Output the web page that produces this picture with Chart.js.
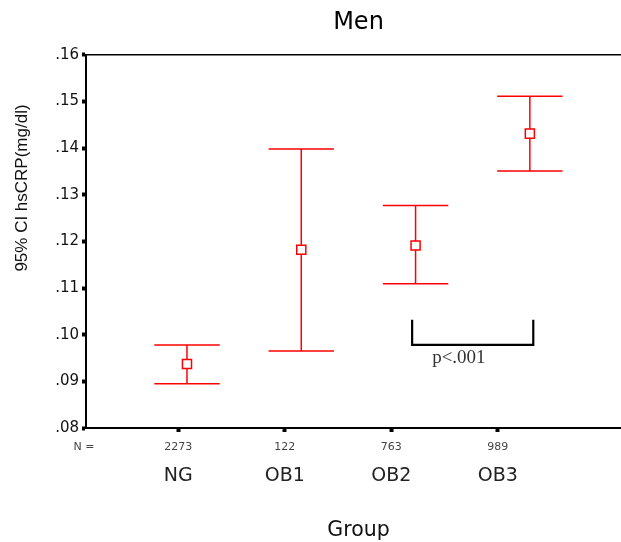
<!DOCTYPE html>
<html>
<head>
<meta charset="utf-8">
<title>Men - 95% CI hsCRP</title>
<script src="https://cdn.jsdelivr.net/npm/chart.js@4.4.1/dist/chart.umd.min.js"></script>
<style>
  html, body { margin: 0; background: #fff; overflow: hidden; }
  /* plot frame runs past the right edge of the window, like the original crop */
  #wrap { width: 631px; height: 542px; }
</style>
</head>
<body>
<div id="wrap"><canvas id="ciChart"></canvas></div>
<script>
// values
const groups = ["NG", "OB1", "OB2", "OB3"];
const counts = ["2273", "122", "763", "989"];
const means = [0.0937, 0.1182, 0.1191, 0.1431];
const lower = [0.0895, 0.0965, 0.1109, 0.1351];
const upper = [0.0978, 0.1398, 0.1277, 0.1511];
const yTicks = [0.08, 0.09, 0.10, 0.11, 0.12, 0.13, 0.14, 0.15, 0.16];

// bracket between OB2 and OB3
const bracket = { from: 1.97, to: 3.03, top: 0.1032, bottom: 0.0978, text: "p<.001" };

const RED = "#ff0000";
const FONT = "'DejaVu Sans', sans-serif";

// one dataset per whisker: vertical line + caps drawn as 'line' points
const whiskers = groups.map((g, i) => ({
  type: "line",
  data: [{ x: i, y: lower[i] }, { x: i, y: upper[i] }],
  borderColor: RED,
  borderWidth: 1.5,
  pointStyle: "line",
  pointRadius: 32.7,
  pointBorderWidth: 1.5,
  pointBorderColor: RED,
  order: 2,
}));

const extras = {
  id: "extras",
  afterDraw(chart) {
    const { ctx, chartArea } = chart;
    const x = chart.scales.x, y = chart.scales.y;
    ctx.save();

    // top border
    ctx.strokeStyle = "#000";
    ctx.lineWidth = 1.5;
    ctx.beginPath();
    ctx.moveTo(chartArea.left, chartArea.top);
    ctx.lineTo(chartArea.right, chartArea.top);
    ctx.stroke();

    // bracket
    const x1 = x.getPixelForValue(bracket.from);
    const x2 = x.getPixelForValue(bracket.to);
    const yt = y.getPixelForValue(bracket.top);
    const yb = y.getPixelForValue(bracket.bottom);
    ctx.lineWidth = 2.2;
    ctx.beginPath();
    ctx.moveTo(x1, yt);
    ctx.lineTo(x1, yb);
    ctx.lineTo(x2, yb);
    ctx.lineTo(x2, yt);
    ctx.stroke();

    ctx.fillStyle = "#333";
    ctx.font = "19px 'Liberation Serif', serif";
    ctx.textAlign = "left";
    ctx.textBaseline = "alphabetic";
    ctx.fillText(bracket.text, x1 + 20, yb + 18);

    // "N =" in front of the counts
    ctx.fillStyle = "#444";
    ctx.font = "11px " + FONT;
    ctx.textAlign = "center";
    ctx.textBaseline = "middle";
    ctx.fillText("N =", 84, 447);

    // y axis title
    ctx.fillStyle = "#111";
    ctx.font = "17px 'Liberation Sans', Arial, sans-serif";
    ctx.translate(22, 188);
    ctx.rotate(-Math.PI / 2);
    ctx.textBaseline = "middle";
    ctx.fillText("95% CI hsCRP(mg/dl)", 0, 0);
    ctx.restore();
  }
};

const tickGrid = {
  drawOnChartArea: false,
  tickLength: 4,
  tickWidth: 4,
  tickColor: "#000",
};

const noSidePad = (s) => { s.paddingLeft = 0; s.paddingRight = 0; };

new Chart(document.getElementById("ciChart"), {
  type: "scatter",
  data: {
    datasets: [
      {
        type: "scatter",
        data: means.map((m, i) => ({ x: i, y: m })),
        pointStyle: "rect",
        pointRadius: 6.4,
        pointBorderWidth: 1.5,
        pointBorderColor: RED,
        pointBackgroundColor: "#fff",
        order: 1,
      },
      ...whiskers,
    ],
  },
  options: {
    responsive: true,
    maintainAspectRatio: false,
    animation: false,
    events: [],
    layout: { autoPadding: false, padding: 0 },
    plugins: {
      legend: { display: false },
      tooltip: { enabled: false },
      title: {
        display: true,
        text: "Men",
        fullSize: false,
        color: "#000",
        font: { family: FONT, size: 24, weight: "normal" },
        padding: { top: 8, bottom: 18 },
      },
    },
    scales: {
      x: {
        type: "linear",
        display: false,
        min: -0.8836,
        max: 3.885,
        afterFit: noSidePad,
      },
      xN: {
        type: "linear",
        axis: "x",
        position: "bottom",
        weight: 0,
        min: -0.867,
        max: 4.251,
        afterBuildTicks: (s) => { s.ticks = groups.map((g, i) => ({ value: i })); },
        afterFit: (s) => { s.height = 30; noSidePad(s); },
        grid: tickGrid,
        border: { color: "#000", width: 2 },
        ticks: {
          autoSkip: false,
          maxRotation: 0,
          padding: 9,
          color: "#444",
          font: { family: FONT, size: 11 },
          callback: (v, i) => counts[i],
        },
      },
      xLab: {
        type: "linear",
        axis: "x",
        position: "bottom",
        weight: 1,
        min: -0.867,
        max: 4.251,
        afterBuildTicks: (s) => { s.ticks = groups.map((g, i) => ({ value: i })); },
        afterFit: (s) => { s.height = 84; noSidePad(s); },
        grid: { display: false, drawTicks: false },
        border: { display: false },
        ticks: {
          autoSkip: false,
          maxRotation: 0,
          padding: 7,
          color: "#222",
          font: { family: FONT, size: 19 },
          callback: (v, i) => groups[i],
        },
        title: {
          display: true,
          text: "Group",
          color: "#111",
          font: { family: FONT, size: 20.5 },
          padding: { top: 0, bottom: -1 },
        },
      },
      y: {
        type: "linear",
        min: 0.08,
        max: 0.16,
        afterBuildTicks: (s) => { s.ticks = yTicks.map((v) => ({ value: v })); },
        afterFit: (s) => { s.width = 86; },
        grid: tickGrid,
        border: { color: "#000", width: 2 },
        ticks: {
          padding: 3,
          color: "#111",
          font: { family: FONT, size: 15 },
          callback: (v) => v.toFixed(2).replace(/^0/, ""),
        },
      },
    },
  },
  plugins: [extras],
});
</script>
</body>
</html>
